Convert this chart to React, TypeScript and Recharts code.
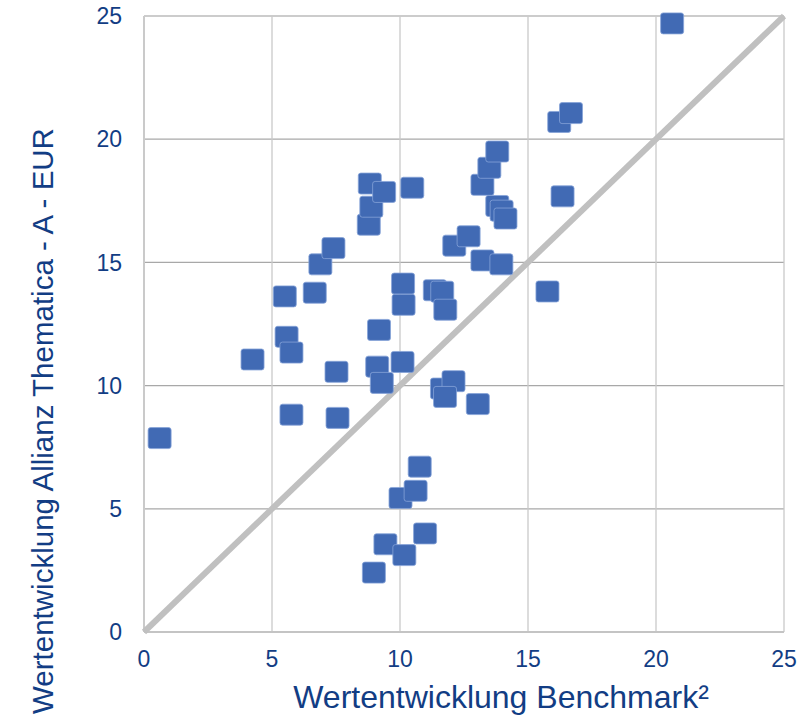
import React from 'react';
import { ScatterChart, Scatter, XAxis, YAxis, CartesianGrid, ReferenceLine } from 'recharts';

// Benchmark performance (x) vs. fund performance (y), in %
const benchmarkValues = [
  0.61, 4.24, 5.5, 5.57, 5.76, 5.76, 6.67, 6.89, 7.4, 7.52, 7.56, 8.78, 8.82, 8.88, 9.38, 9.18, 9.11,
  9.29, 8.98, 9.43, 10.1, 10.12, 10.14, 10.17, 10.02, 10.61, 10.77, 10.98, 10.48, 11.36, 11.65, 11.77,
  11.64, 12.09, 11.76, 13.04, 12.12, 12.68, 13.22, 13.96, 13.22, 13.49, 13.8, 13.8, 13.97, 14.12,
  15.76, 16.35, 16.22, 16.68, 20.63,
];
const fundValues = [
  7.87, 11.06, 13.62, 11.98, 11.34, 8.82, 13.77, 14.92, 15.58, 10.56, 8.69, 16.53, 18.2, 17.26, 17.86,
  12.26, 10.77, 10.11, 2.41, 3.56, 10.96, 14.14, 13.28, 3.12, 5.44, 5.73, 6.71, 4.0, 18.03, 13.87,
  13.81, 13.08, 9.88, 10.18, 9.54, 9.25, 15.68, 16.06, 15.08, 14.92, 18.15, 18.84, 19.5, 17.29, 17.1,
  16.78, 13.82, 17.68, 20.7, 21.06, 24.7,
];
const axisTicks = [0, 5, 10, 15, 20, 25];
const diagonalPoints = [0, 25];

const points = benchmarkValues.map((x, i) => ({ x, y: fundValues[i] }));
const diagonal = diagonalPoints.map((v) => ({ x: v, y: v }));

const BLUE_TEXT = '#123d84';
const FONT = '"Liberation Sans", Arial, sans-serif';

const SquareMarker = (props: any) => {
  const { cx, cy } = props;
  if (cx == null || cy == null) return null;
  return (
    <rect
      x={cx - 11.5}
      y={cy - 10.5}
      width={23}
      height={21}
      rx={2.5}
      fill="#416ab4"
      stroke="#86a3d8"
      strokeWidth={0.8}
    />
  );
};

const XLabel = () => (
  <text x={501} y={708} textAnchor="middle" fill={BLUE_TEXT} fontSize={32} fontFamily={FONT}>
    Wertentwicklung Benchmark²
  </text>
);

const YLabel = () => (
  <text
    x={42}
    y={421}
    transform="rotate(-90, 42, 421)"
    textAnchor="middle"
    dominantBaseline="central"
    fill={BLUE_TEXT}
    fontSize={29.5}
    fontFamily={FONT}
  >
    Wertentwicklung Allianz Thematica - A - EUR
  </text>
);

const App: React.FC = () => {
  return (
    <div style={{ position: 'absolute', left: 0, top: 0, width: 805, height: 727, background: '#fff' }}>
      <ScatterChart width={805} height={727} margin={{ top: 16, right: 21, left: 0, bottom: 0 }}>
        <CartesianGrid vertical={false} stroke="#a8a8a8" strokeWidth={1.2} />
        <CartesianGrid horizontal={false} stroke="#cacaca" strokeWidth={1.3} />
        <ReferenceLine y={25} stroke="#cacaca" strokeWidth={1.5} />
        <XAxis
          type="number"
          dataKey="x"
          domain={[0, 25]}
          ticks={axisTicks}
          height={95}
          tickLine={false}
          tickMargin={13}
          axisLine={{ stroke: '#c4c4c4', strokeWidth: 2 }}
          tick={{ fill: BLUE_TEXT, fontSize: 23, fontFamily: FONT }}
          label={<XLabel />}
        />
        <YAxis
          type="number"
          dataKey="y"
          domain={[0, 25]}
          ticks={axisTicks}
          width={144}
          tickLine={false}
          tickMargin={16}
          axisLine={{ stroke: '#cacaca', strokeWidth: 2 }}
          tick={{ fill: BLUE_TEXT, fontSize: 23, fontFamily: FONT }}
          label={<YLabel />}
        />
        <Scatter
          data={diagonal}
          line={{ stroke: '#c0c0c0', strokeWidth: 6 }}
          shape={() => null}
          isAnimationActive={false}
        />
        <Scatter data={points} shape={SquareMarker} isAnimationActive={false} />
      </ScatterChart>
    </div>
  );
};

export default App;
